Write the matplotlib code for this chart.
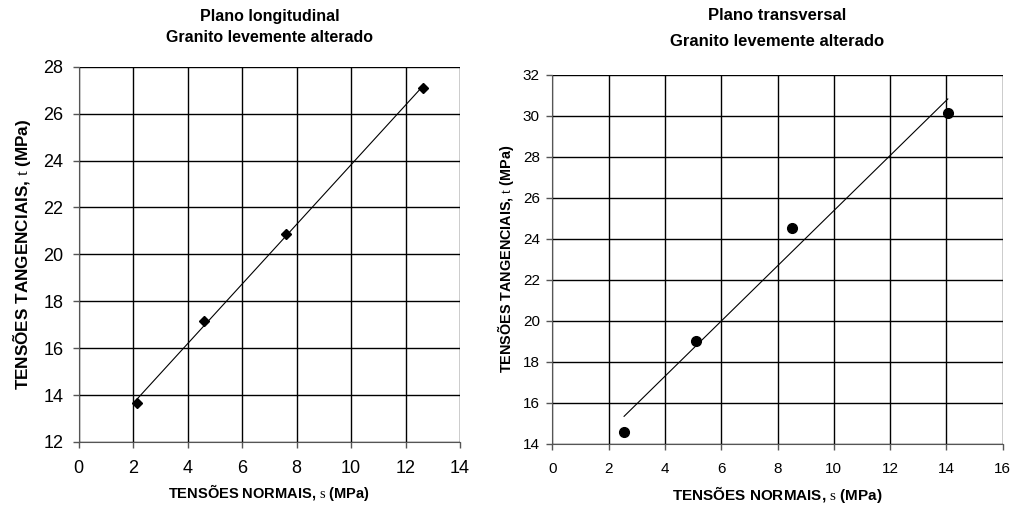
import numpy as np
import matplotlib.pyplot as plt

plt.rcParams['font.family'] = ['Liberation Sans', 'DejaVu Sans']
plt.rcParams['mathtext.fontset'] = 'custom'
plt.rcParams['mathtext.rm'] = 'Liberation Serif'

# Plano longitudinal
long_sigma = [2.15, 4.6, 7.6, 12.65]
long_tau = [13.65, 17.15, 20.85, 27.1]

# Plano transversal
trans_sigma = [2.55, 5.1, 8.5, 14.05]
trans_tau = [14.6, 19.0, 24.55, 30.15]

W, H = 1015, 507
fig = plt.figure(figsize=(W / 100, H / 100), dpi=100)


def painel(ax, xs, ys, marker, msize, xlim, ylim, linhas, y_tit, fs_tit,
           fs_tick, ypad, fs_ylab, ylab_x, fs_xlab, xlab_y):
    xs = np.array(xs)
    ys = np.array(ys)
    # linha de tendencia (regressao linear)
    a, b = np.polyfit(xs, ys, 1)
    xl = np.array([xs.min(), xs.max()])
    ax.plot(xl, a * xl + b, color='black', lw=0.8, zorder=3)
    ax.plot(xs, ys, linestyle='none', marker=marker, markersize=msize,
            color='black', zorder=4, clip_on=False)
    ax.set_xlim(*xlim)
    ax.set_ylim(*ylim)
    ax.set_xticks(np.arange(xlim[0], xlim[1] + 1, 2))
    ax.set_yticks(np.arange(ylim[0], ylim[1] + 1, 2))
    ax.grid(True, color='black', lw=1.0)
    ax.set_axisbelow(True)
    for s in ['top', 'right']:
        ax.spines[s].set_visible(False)
    for s in ['left', 'bottom']:
        ax.spines[s].set_color('#555555')
    ax.tick_params(direction='out', length=4, width=1, colors='#555555',
                   labelcolor='black', labelsize=fs_tick)
    ax.tick_params(axis='x', pad=9)
    ax.tick_params(axis='y', pad=ypad)

    # titulo em duas linhas
    bb = ax.get_position()
    xc = (bb.x0 + bb.x1) / 2
    for txt, yp in zip(linhas, y_tit):
        fig.text(xc, 1 - yp / H, txt, ha='center', va='center',
                 fontsize=fs_tit, fontweight='bold')

    ax.set_ylabel(r'TENSÕES TANGENCIAIS, $\mathrm{t}$ (MPa)', fontsize=fs_ylab,
                  fontweight='bold', va='center')
    ax.yaxis.set_label_coords(ylab_x, 0.5)
    ax.set_xlabel(r'TENSÕES NORMAIS, $\mathrm{s}$ (MPa)', fontsize=fs_xlab,
                  fontweight='bold', va='center')
    ax.xaxis.set_label_coords(0.5, xlab_y)


ax1 = fig.add_axes([78.7 / W, 1 - 442 / H, (460 - 78.7) / W, (442 - 66.7) / H])
painel(ax1, long_sigma, long_tau, 'D', 5, (0, 14), (12, 28),
       ['Plano longitudinal', 'Granito levemente alterado'], [17, 38], 11.5,
       13, 7, 12.3, -0.149, 10.5, -0.1333)

ax2 = fig.add_axes([552.3 / W, 1 - 444 / H, (1002.7 - 552.3) / W, (444 - 74.7) / H])
painel(ax2, trans_sigma, trans_tau, 'o', 7, (0, 16), (14, 32),
       ['Plano transversal', 'Granito levemente alterado'], [16, 42], 12,
       11, 5, 10.4, -0.105, 11, -0.138)

fig.savefig('out.png', dpi=100)
